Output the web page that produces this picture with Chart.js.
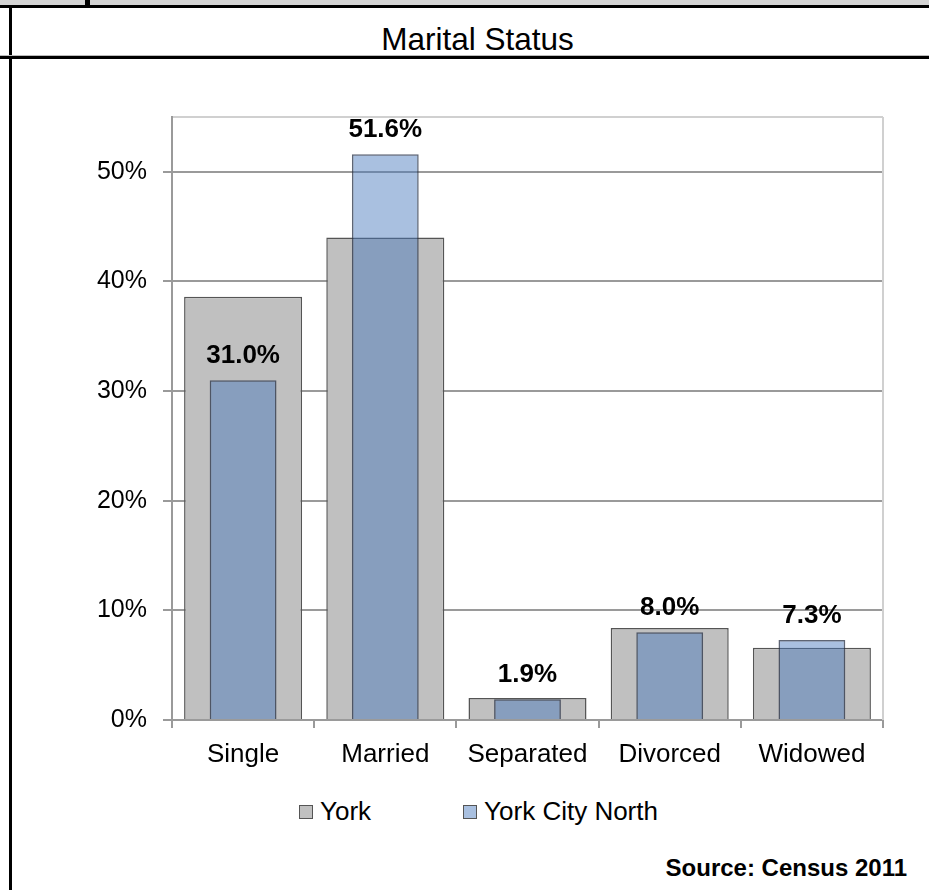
<!DOCTYPE html>
<html>
<head>
<meta charset="utf-8">
<script src="https://cdn.jsdelivr.net/npm/chart.js@4/dist/chart.umd.min.js"></script>
<style>
  html, body { margin: 0; padding: 0; background: #fff; }
  body { width: 929px; height: 890px; position: relative; overflow: hidden; font-family: "Liberation Sans", Arial, sans-serif; }
  .band { position: absolute; left: 0; top: 0; width: 929px; height: 5px; background: #d4d4d4; }
  .mark { position: absolute; left: 85px; top: 0; width: 5px; height: 5px; background: #000; }
  .topline { position: absolute; left: 0; top: 5px; width: 929px; height: 3px; background: #000; }
  .leftline { position: absolute; left: 9px; top: 5px; width: 3px; height: 885px; background: #000; }
  .titleline { position: absolute; left: 0; top: 55px; width: 929px; height: 3px; background: #000; border-top: 1px solid #bbb; }
  .title { position: absolute; left: 0; width: 955px; top: 21px; text-align: center; font-size: 31.5px; color: #000; }
  #wrap { position: absolute; left: 0; top: 60px; width: 929px; height: 720px; }
  .legend { position: absolute; top: 796px; left: 299px; font-size: 26px; color: #000; display: flex; }
  .legend span.item { display: flex; align-items: center; margin-right: 92px; }
  .legend span.box { display: inline-block; width: 12px; height: 12px; border: 1px solid #555; margin-right: 7px; }
  .source { position: absolute; right: 22px; top: 854px; font-size: 24px; font-weight: bold; color: #000; }
</style>
</head>
<body>
<div class="band"></div>
<div class="mark"></div>
<div class="topline"></div>
<div class="leftline"></div>
<div class="title">Marital Status</div>
<div class="titleline"></div>
<div id="wrap"><canvas id="myChart"></canvas></div>
<div class="legend" id="legend"></div>
<div class="source">Source: Census 2011</div>
<script>
const categories = ["Single", "Married", "Separated", "Divorced", "Widowed"];
const seriesNames = ["York", "York City North"];
const york = [38.6, 44.0, 2.0, 8.4, 6.6];
const yorkCityNorth = [31.0, 51.6, 1.9, 8.0, 7.3];
const yTicks = [0, 10, 20, 30, 40, 50];

const gridGray = "#9a9a9a";

// value labels above the York City North bars
const valueLabels = {
  id: "valueLabels",
  afterDatasetsDraw(chart) {
    const ctx = chart.ctx;
    const meta = chart.getDatasetMeta(1);
    ctx.save();
    ctx.font = "bold 26px 'Liberation Sans', Arial, sans-serif";
    ctx.fillStyle = "#000";
    ctx.textAlign = "center";
    ctx.textBaseline = "alphabetic";
    meta.data.forEach((bar, i) => {
      ctx.fillText(yorkCityNorth[i].toFixed(1) + "%", bar.x, bar.y - 17);
    });
    ctx.restore();
  }
};

// light right edge of the plot area
const plotEdge = {
  id: "plotEdge",
  beforeDatasetsDraw(chart) {
    const { ctx, chartArea } = chart;
    ctx.save();
    ctx.strokeStyle = "#d0d0d0";
    ctx.lineWidth = 2;
    ctx.beginPath();
    ctx.moveTo(chartArea.right, chartArea.top);
    ctx.lineTo(chartArea.right, chartArea.bottom);
    ctx.stroke();
    ctx.restore();
  }
};

const chart = new Chart(document.getElementById("myChart").getContext("2d"), {
  type: "bar",
  data: {
    labels: categories,
    datasets: [
      {
        label: seriesNames[0],
        data: york,
        backgroundColor: "#c0c0c0",
        borderColor: "#555555",
        borderWidth: 1.5,
        barPercentage: 0.83,
        categoryPercentage: 1,
        grouped: false,
        order: 2
      },
      {
        label: seriesNames[1],
        data: yorkCityNorth,
        backgroundColor: "rgba(68,118,188,0.46)",
        borderColor: "rgba(40,50,70,0.75)",
        borderWidth: 1.5,
        barPercentage: 0.47,
        categoryPercentage: 1,
        grouped: false,
        order: 1
      }
    ]
  },
  options: {
    responsive: true,
    maintainAspectRatio: false,
    animation: false,
    layout: { padding: { top: 57, right: 46, left: 0, bottom: 0 } },
    plugins: {
      legend: { display: false },
      tooltip: { enabled: false }
    },
    scales: {
      x: {
        afterFit: s => { s.height = 60; },
        grid: {
          offset: true,
          drawOnChartArea: false,
          drawTicks: true,
          tickLength: 8,
          color: gridGray,
          lineWidth: 2
        },
        border: { display: true, color: gridGray, width: 2 },
        ticks: {
          color: "#000",
          padding: 11,
          font: { family: "'Liberation Sans', Arial, sans-serif", size: 26 }
        }
      },
      y: {
        min: 0,
        max: 55,
        afterFit: s => { s.width = 172; },
        afterBuildTicks: s => {
          s.ticks = yTicks.map(v => ({ value: v })).concat([{ value: 55 }]);
        },
        grid: {
          color: c => (c.tick && c.tick.value === 55 ? "#d0d0d0" : gridGray),
          tickColor: c => (c.tick && c.tick.value === 55 ? "rgba(0,0,0,0)" : gridGray),
          lineWidth: 2,
          tickLength: 9
        },
        border: { display: true, color: gridGray, width: 2 },
        ticks: {
          color: "#000",
          padding: 16,
          font: { family: "'Liberation Sans', Arial, sans-serif", size: 25 },
          callback: v => (v === 55 ? "" : v + "%")
        }
      }
    }
  },
  plugins: [plotEdge, valueLabels]
});

// legend built from the chart's datasets
const legendEl = document.getElementById("legend");
const legendFills = ["#c0c0c0", "#a9c0e0"];
chart.data.datasets.forEach((ds, i) => {
  const item = document.createElement("span");
  item.className = "item";
  item.innerHTML = '<span class="box" style="background:' + legendFills[i] + '"></span>' + ds.label;
  legendEl.appendChild(item);
});
</script>
</body>
</html>
